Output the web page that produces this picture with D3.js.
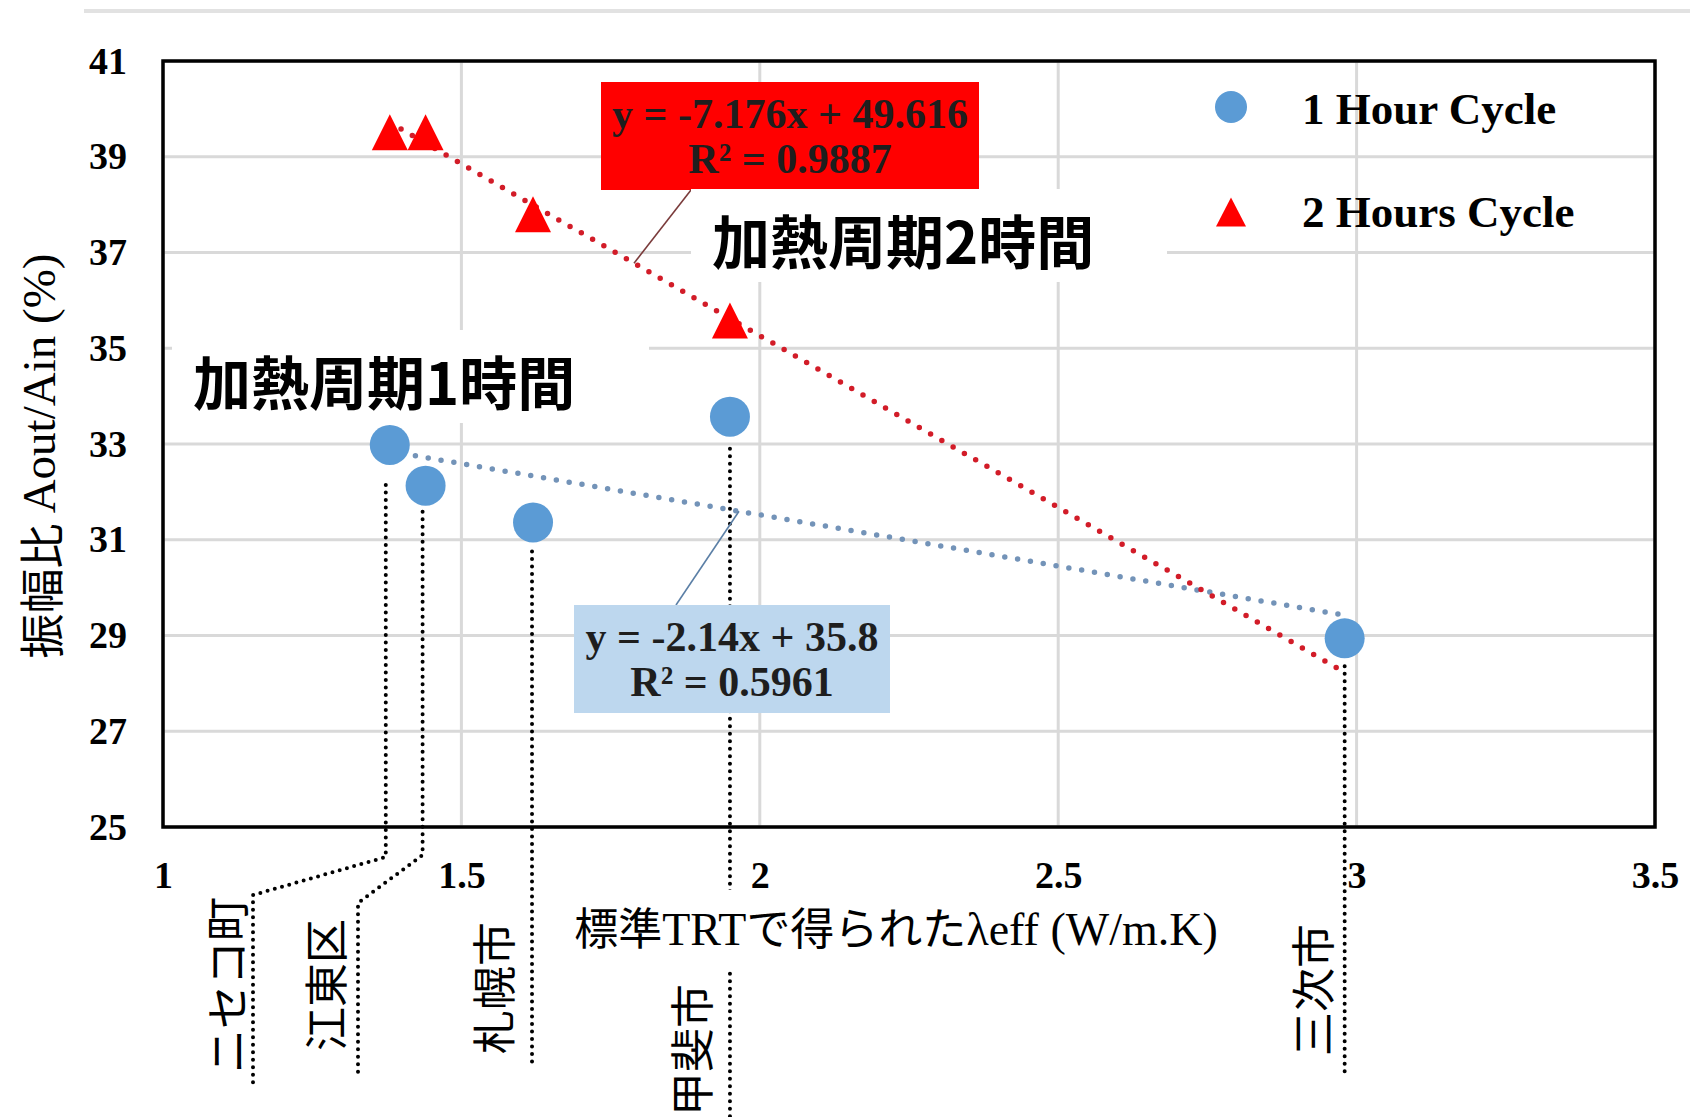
<!DOCTYPE html>
<html>
<head>
<meta charset="utf-8">
<script src="https://cdn.jsdelivr.net/npm/d3@7"></script>
<style>
  html, body { margin: 0; padding: 0; background: #fff; }
  svg { display: block; }
</style>
</head>
<body>
<svg id="chart" width="1690" height="1117"></svg>
<script>
// ---- data ----
const sites      = ["ニセコ町", "江東区", "札幌市", "甲斐市", "三次市"];
const lambdaEff  = [1.38, 1.44, 1.62, 1.95, 2.98];          // λeff (W/m.K)
const ratio1h    = [32.98, 32.13, 31.36, 33.57, 28.94];     // Aout/Ain (%), 1 hour cycle
const ratio2h    = [39.51, 39.51, 37.80, 35.58, null];      // Aout/Ain (%), 2 hours cycle
const seriesNames    = ["1 Hour Cycle", "2 Hours Cycle"];
const trendSlope     = [-2.14, -7.176];
const trendIntercept = [35.8, 49.616];
const trendR2        = ["0.5961", "0.9887"];
const xTicks = [1, 1.5, 2, 2.5, 3, 3.5];
const yTicks = [25, 27, 29, 31, 33, 35, 37, 39, 41];

// ---- styling ----
const SERIF = "'Liberation Serif', 'Times New Roman', serif";
const CJK   = "'Noto Sans CJK JP', 'Noto Sans', sans-serif";
const BLUE = "#5b9bd5", RED = "#ff0000";

const svg = d3.select("#chart");
const plot = { left: 163, right: 1655, top: 61, bottom: 827 };

const x = d3.scaleLinear().domain([1, 3.5]).range([plot.left, plot.right]);
const y = d3.scaleLinear().domain([25, 41]).range([plot.bottom, plot.top]);

// thin rule across the top of the figure
svg.append("line").attr("x1", 84).attr("x2", 1690).attr("y1", 11).attr("y2", 11)
  .attr("stroke", "#e2e2e2").attr("stroke-width", 4);

// ---- gridlines ----
const grid = svg.append("g").attr("stroke", "#d9d9d9").attr("stroke-width", 3);
grid.selectAll(".gx").data(xTicks).join("line")
  .attr("x1", d => x(d)).attr("x2", d => x(d))
  .attr("y1", plot.top).attr("y2", plot.bottom);
grid.selectAll(".gy").data(yTicks).join("line")
  .attr("x1", plot.left).attr("x2", plot.right)
  .attr("y1", d => y(d)).attr("y2", d => y(d));

// ---- trendlines (dotted), drawn beneath the markers ----
const xExt = d3.extent(lambdaEff);
const trendColors = ["#7393b8", "#d21c28"];
const line = d3.line().x(d => x(d[0])).y(d => y(d[1]));
trendSlope.forEach((m, i) => {
  const pts = xExt.map(v => [v, m * v + trendIntercept[i]]);
  svg.append("path").attr("d", line(pts))
    .attr("fill", "none").attr("stroke", trendColors[i])
    .attr("stroke-width", 5.5).attr("stroke-linecap", "round")
    .attr("stroke-dasharray", "0 13");
});

// ---- markers ----
const tri = (w, h) => `M0,${-h / 2}L${w / 2},${h / 2}L${-w / 2},${h / 2}Z`;
const pts2h = lambdaEff.map((v, i) => [v, ratio2h[i]]).filter(d => d[1] != null);
svg.append("g").selectAll("path").data(pts2h).join("path")
  .attr("d", tri(36, 36))
  .attr("transform", d => `translate(${x(d[0])},${y(d[1])})`)
  .attr("fill", RED);
const pts1h = lambdaEff.map((v, i) => [v, ratio1h[i]]);
svg.append("g").selectAll("circle").data(pts1h).join("circle")
  .attr("cx", d => x(d[0])).attr("cy", d => y(d[1])).attr("r", 20)
  .attr("fill", BLUE);

// ---- plot frame ----
svg.append("rect")
  .attr("x", plot.left).attr("y", plot.top)
  .attr("width", plot.right - plot.left).attr("height", plot.bottom - plot.top)
  .attr("fill", "none").attr("stroke", "#000").attr("stroke-width", 3.5);

// ---- site leader lines and names ----
// per-site layout of the dotted leaders: optional dog-leg and label placement
const leaderLayout = [
  { dx: -4, start: 40, bendY: 857, legX: 253, legY: 895, endY: 1083, labelDx: -28, labelY: 985 },
  { dx: -3, start: 26, bendY: 855, legX: 358, legY: 903, endY: 1073, labelDx: -34, labelY: 985 },
  { dx: -1, start: 29, endY: 1067, labelDx: -40, labelY: 988 },
  { dx: 0,  start: 32, endY: 1117, labelDx: -40, labelY: 1050 },
  { dx: 0,  start: 28, endY: 1072, labelDx: -34, labelY: 990 }
];
const leaders = svg.append("g");
sites.forEach((name, i) => {
  const L = leaderLayout[i];
  const cx = x(lambdaEff[i]) + L.dx;
  const startY = y(ratio1h[i]) + L.start;
  let d = `M${cx},${startY}`;
  let lx = cx;
  if (L.bendY) {
    d += `L${cx},${L.bendY}L${L.legX},${L.legY}L${L.legX},${L.endY}`;
    lx = L.legX;
  } else {
    d += `L${cx},${L.endY}`;
  }
  leaders.append("path").attr("d", d)
    .attr("fill", "none").attr("stroke", "#000").attr("stroke-width", 4)
    .attr("stroke-linecap", "round").attr("stroke-dasharray", "0 7.5");
  leaders.append("text")
    .attr("transform", `translate(${lx + L.labelDx},${L.labelY}) rotate(-90)`)
    .attr("text-anchor", "middle").attr("dominant-baseline", "central")
    .attr("font-family", CJK).attr("font-size", 44).attr("fill", "#000")
    .text(name);
});

// ---- trendline equation labels ----
const fmtEq = i => `y = ${trendSlope[i]}x + ${trendIntercept[i]}`;
const eqBoxes = [
  { x: 574, y: 605, w: 316, h: 108, fill: "#bdd7ee", lead: [676, 605], leadAt: 739 },
  { x: 601, y: 82,  w: 378, h: 108, fill: RED,       lead: [691, 190], leadAt: 634 }
];
eqBoxes.forEach((b, i) => {
  const xv = x.invert(b.leadAt);
  svg.append("line")
    .attr("x1", b.lead[0]).attr("y1", b.lead[1])
    .attr("x2", b.leadAt).attr("y2", y(trendSlope[i] * xv + trendIntercept[i]))
    .attr("stroke", i ? "#7a3b3b" : "#5b7fa6").attr("stroke-width", 1.6);
  svg.append("rect").attr("x", b.x).attr("y", b.y).attr("width", b.w).attr("height", b.h)
    .attr("fill", b.fill);
  const t = svg.append("text").attr("text-anchor", "middle")
    .attr("font-family", SERIF).attr("font-weight", "bold").attr("font-size", 42)
    .attr("fill", "#1e1e1e");
  t.append("tspan").attr("x", b.x + b.w / 2).attr("y", b.y + 46).text(fmtEq(i));
  t.append("tspan").attr("x", b.x + b.w / 2).attr("y", b.y + 91).text(`R² = ${trendR2[i]}`);
});

// ---- heating period captions ----
const captions = [
  { text: "加熱周期1時間", bx: 172, by: 330, bw: 477, bh: 93, tx: 193, ty: 380 },
  { text: "加熱周期2時間", bx: 691, by: 189, bw: 476, bh: 93, tx: 712, ty: 239 }
];
captions.forEach(c => {
  svg.append("rect").attr("x", c.bx).attr("y", c.by).attr("width", c.bw).attr("height", c.bh)
    .attr("fill", "#fff");
  svg.append("text").attr("x", c.tx).attr("y", c.ty)
    .attr("dominant-baseline", "central")
    .attr("font-family", CJK).attr("font-weight", "bold").attr("font-size", 58)
    .attr("fill", "#000").text(c.text);
});

// ---- axes ----
const yAxis = d3.axisLeft(y).tickValues(yTicks).tickSize(0).tickPadding(36);
svg.append("g").attr("transform", `translate(${plot.left},0)`).call(yAxis)
  .call(g => g.select(".domain").remove())
  .selectAll("text")
  .attr("font-family", SERIF).attr("font-weight", "bold").attr("font-size", 38).attr("fill", "#000");

// x-axis title sits on a white panel
svg.append("rect").attr("x", 560).attr("y", 890).attr("width", 672).attr("height", 80).attr("fill", "#fff");

const xAxis = d3.axisBottom(x).tickValues(xTicks).tickSize(0).tickPadding(34)
  .tickFormat(d3.format("~g"));
svg.append("g").attr("transform", `translate(0,${plot.bottom})`).call(xAxis)
  .call(g => g.select(".domain").remove())
  .selectAll("text")
  .attr("font-family", SERIF).attr("font-weight", "bold").attr("font-size", 38).attr("fill", "#000");

const xt = svg.append("text").attr("x", 896).attr("y", 945).attr("text-anchor", "middle")
  .attr("font-size", 44).attr("fill", "#000");
[["標準", CJK], ["TRT", SERIF], ["で得られた", CJK], ["λeff (W/m.K)", SERIF]].forEach(([s, f]) =>
  xt.append("tspan").attr("font-family", f).attr("font-size", f === SERIF ? 46 : 44).text(s));

const yt = svg.append("text").attr("transform", "translate(39,456) rotate(-90)")
  .attr("text-anchor", "middle").attr("dominant-baseline", "central").attr("fill", "#000");
[["振幅比 ", CJK, 45], ["Aout/Ain (%)", SERIF, 47]].forEach(([s, f, fs]) =>
  yt.append("tspan").attr("font-family", f).attr("font-size", fs).text(s));

// ---- legend ----
const legend = svg.append("g");
legend.append("circle").attr("cx", 1231).attr("cy", 107).attr("r", 16).attr("fill", BLUE);
legend.append("path").attr("d", tri(30, 29)).attr("transform", "translate(1231,212)").attr("fill", RED);
[[124, seriesNames[0]], [227, seriesNames[1]]].forEach(([by, s]) =>
  legend.append("text").attr("x", 1302).attr("y", by)
    .attr("font-family", SERIF).attr("font-weight", "bold").attr("font-size", 45)
    .attr("fill", "#000").text(s));
</script>
</body>
</html>
